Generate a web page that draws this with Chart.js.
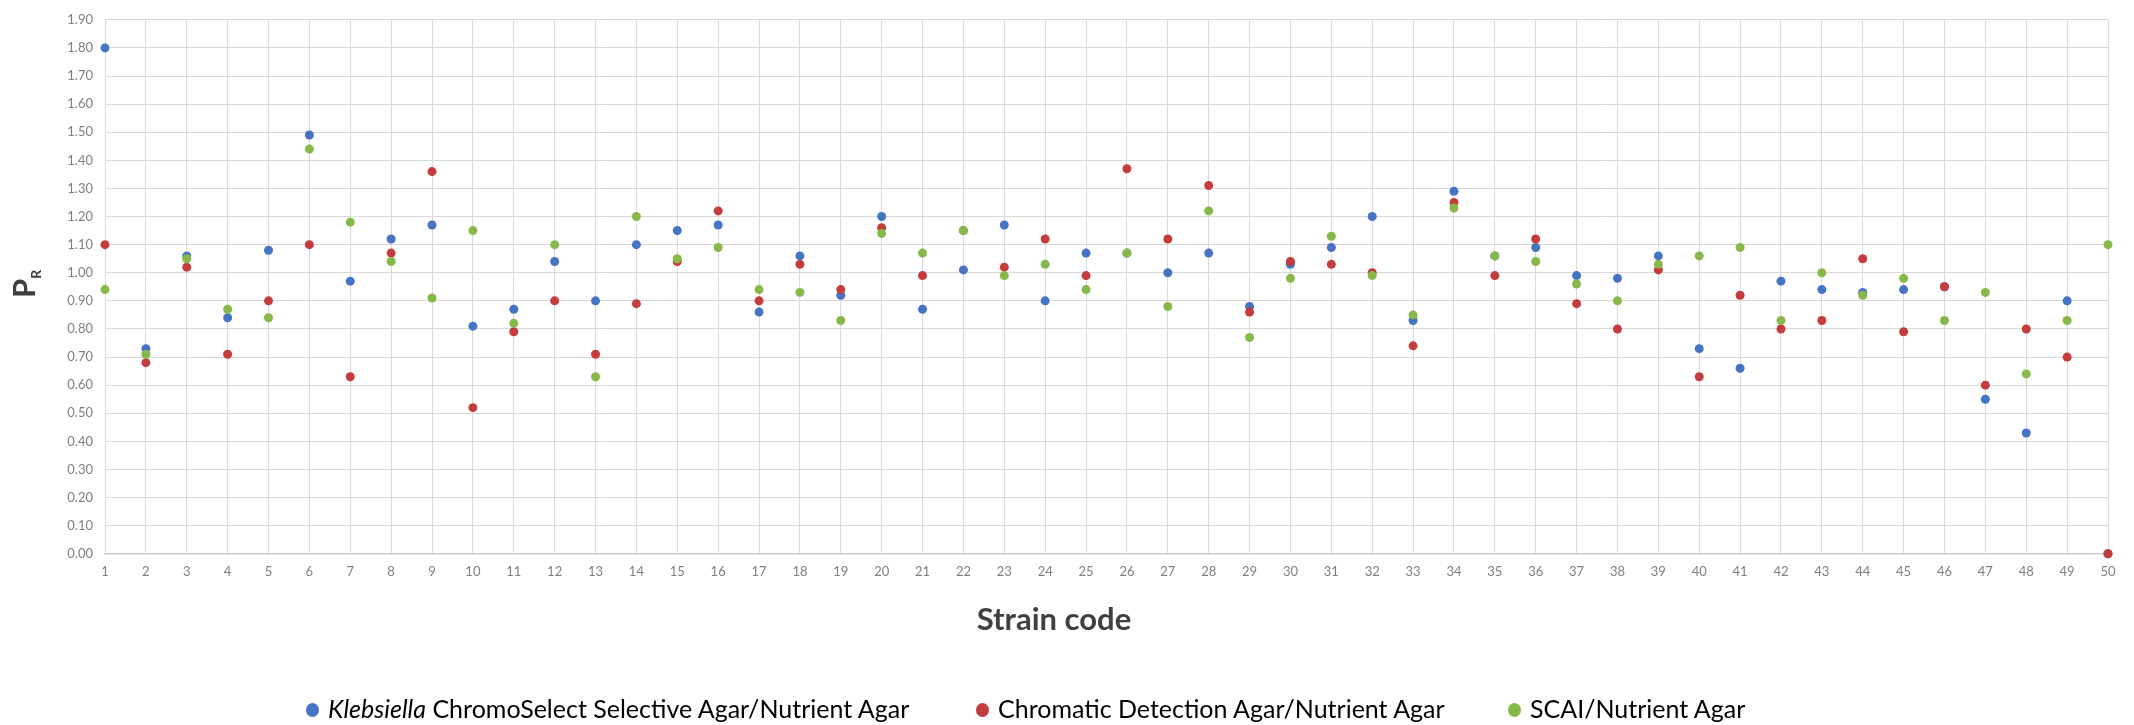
<!DOCTYPE html>
<html>
<head>
<meta charset="utf-8">
<script src="https://cdn.jsdelivr.net/npm/chart.js@4.4.1/dist/chart.umd.min.js"></script>
<style>
  html, body { margin: 0; padding: 0; background: #fff; }
  #wrap { position: relative; width: 2134px; height: 725px; }
  .leg { position: absolute; top: 693px; height: 30px; font-family: Lato, "Open Sans", sans-serif; font-size: 25px; color: #000; white-space: nowrap; line-height: 30px; }
  .leg span.dot { display: inline-block; width: 13px; height: 14px; border-radius: 50%; margin-right: 9px; vertical-align: 1px; }
</style>
</head>
<body>
<div id="wrap">
  <canvas id="resultsChart" width="2134" height="725"></canvas>
  <div class="leg" style="left:306px"><span class="dot" style="background:#4674c4"></span><i>Klebsiella</i> ChromoSelect Selective Agar/Nutrient Agar</div>
  <div class="leg" style="left:976px"><span class="dot" style="background:#c43c3c"></span>Chromatic Detection Agar/Nutrient Agar</div>
  <div class="leg" style="left:1508px"><span class="dot" style="background:#86b94a"></span>SCAI/Nutrient Agar</div>
</div>
<script>
// strain codes 1..50
const strains = [1, 2, 3, 4, 5, 6, 7, 8, 9, 10, 11, 12, 13, 14, 15, 16, 17, 18, 19, 20, 21, 22, 23, 24, 25,
  26, 27, 28, 29, 30, 31, 32, 33, 34, 35, 36, 37, 38, 39, 40, 41, 42, 43, 44, 45, 46, 47, 48, 49, 50];

// P_R values
const klebsiella = [1.80, 0.73, 1.06, 0.84, 1.08, 1.49, 0.97, 1.12, 1.17, 0.81, 0.87, 1.04, 0.90, 1.10, 1.15, 1.17, 0.86, 1.06, 0.92, 1.20, 0.87, 1.01, 1.17, 0.90, 1.07,
  1.07, 1.00, 1.07, 0.88, 1.03, 1.09, 1.20, 0.83, 1.29, 1.06, 1.09, 0.99, 0.98, 1.06, 0.73, 0.66, 0.97, 0.94, 0.93, 0.94, 0.95, 0.55, 0.43, 0.90, 0.00];
const chromatic = [1.10, 0.68, 1.02, 0.71, 0.90, 1.10, 0.63, 1.07, 1.36, 0.52, 0.79, 0.90, 0.71, 0.89, 1.04, 1.22, 0.90, 1.03, 0.94, 1.16, 0.99, 1.15, 1.02, 1.12, 0.99,
  1.37, 1.12, 1.31, 0.86, 1.04, 1.03, 1.00, 0.74, 1.25, 0.99, 1.12, 0.89, 0.80, 1.01, 0.63, 0.92, 0.80, 0.83, 1.05, 0.79, 0.95, 0.60, 0.80, 0.70, 0.00];
const scai = [0.94, 0.71, 1.05, 0.87, 0.84, 1.44, 1.18, 1.04, 0.91, 1.15, 0.82, 1.10, 0.63, 1.20, 1.05, 1.09, 0.94, 0.93, 0.83, 1.14, 1.07, 1.15, 0.99, 1.03, 0.94,
  1.07, 0.88, 1.22, 0.77, 0.98, 1.13, 0.99, 0.85, 1.23, 1.06, 1.04, 0.96, 0.90, 1.03, 1.06, 1.09, 0.83, 1.00, 0.92, 0.98, 0.83, 0.93, 0.64, 0.83, 1.10];

const seriesNames = ['Klebsiella ChromoSelect Selective Agar/Nutrient Agar', 'Chromatic Detection Agar/Nutrient Agar', 'SCAI/Nutrient Agar'];
const colors = ['#4674c4', '#c43c3c', '#86b94a'];

function toPoints(values) {
    return strains.map((s, i) => ({ x: s, y: values[i] }));
}

const tickFont = { family: 'Lato, "Open Sans", sans-serif', size: 13 };
const gridColor = '#d9d9d9';

// y axis title "P" with subscript "R"
const yTitle = {
    id: 'yTitle',
    afterDraw(chart) {
        const ctx = chart.ctx;
        ctx.save();
        ctx.translate(35, 298);
        ctx.rotate(-Math.PI / 2);
        ctx.fillStyle = '#404040';
        ctx.textBaseline = 'alphabetic';
        ctx.textAlign = 'left';
        ctx.font = 'bold 31px Lato, "Open Sans", sans-serif';
        ctx.fillText('P', 0, 0);
        const w = ctx.measureText('P').width;
        ctx.font = 'bold 14px Lato, "Open Sans", sans-serif';
        ctx.fillText('R', w, 6);
        ctx.restore();
    }
};

const datasets = [klebsiella, chromatic, scai].map((vals, i) => ({
    label: seriesNames[i],
    data: toPoints(vals),
    backgroundColor: colors[i],
    borderColor: colors[i],
    pointRadius: 4.5,
    pointHoverRadius: 4.5,
    borderWidth: 0,
    clip: false,
    order: 3 - i
}));

new Chart(document.getElementById('resultsChart'), {
    type: 'scatter',
    data: { datasets: datasets },
    options: {
        responsive: false,
        animation: false,
        devicePixelRatio: 1,
        layout: { padding: { left: 0, top: 13, right: 26, bottom: 86 } },
        plugins: {
            legend: { display: false },
            tooltip: { enabled: false },
            title: {
                display: true,
                text: 'Strain code',
                position: 'bottom',
                color: '#404040',
                font: { family: 'Lato, "Open Sans", sans-serif', size: 31, weight: 'bold' },
                padding: 0
            }
        },
        scales: {
            x: {
                type: 'linear',
                min: 1,
                max: 50,
                ticks: { stepSize: 1, color: '#7f7f7f', font: tickFont, padding: 10 },
                grid: { color: gridColor, drawTicks: false },
                border: { color: '#cccccc', width: 1.5 },
                afterFit(scale) { scale.height = 48; }
            },
            y: {
                min: 0,
                max: 1.9,
                ticks: {
                    stepSize: 0.1,
                    color: '#7f7f7f',
                    font: tickFont,
                    padding: 12,
                    callback: v => v.toFixed(2)
                },
                grid: { color: gridColor, drawTicks: false },
                border: { color: gridColor },
                afterFit(scale) { scale.width = 105; }
            }
        }
    },
    plugins: [yTitle]
});
</script>
</body>
</html>
